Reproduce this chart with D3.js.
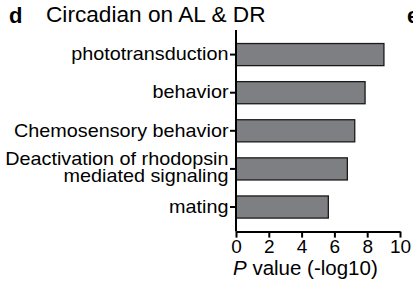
<!DOCTYPE html>
<html>
<head>
<meta charset="utf-8">
<script src="https://cdn.jsdelivr.net/npm/d3@7"></script>
<style>
  body { margin: 0; background: #fff; }
  svg { display: block; font-family: "Liberation Sans", Arial, sans-serif; }
  .axis path, .axis line { stroke: #000; stroke-width: 2px; }
</style>
</head>
<body>
<div id="chart"></div>
<script>
// GO terms, top to bottom
const terms = ["phototransduction", "behavior", "Chemosensory behavior",
  "Deactivation of rhodopsin\nmediated signaling", "mating"];
const pValues = [9.02, 7.87, 7.24, 6.79, 5.63];
const xTicks = [0, 2, 4, 6, 8, 10];

const width = 413, height = 289;

const svg = d3.select("#chart").append("svg")
    .attr("width", width)
    .attr("height", height);

const x = d3.scaleLinear().domain([0, 10]).range([236, 400]);
const y = d3.scaleBand().domain(terms).range([30, 231.6])
    .paddingInner(0.42).paddingOuter(0.355);

// panel letter + title
svg.append("text").attr("x", 9).attr("y", 22.5)
    .attr("font-size", 22).attr("font-weight", "bold").text("d");
svg.append("text").attr("x", 0).attr("y", 22.5)
    .attr("transform", "translate(46,0) scale(1.03,1)")
    .attr("font-size", 22).text("Circadian on AL & DR");
// next panel letter, cut at the edge
svg.append("text").attr("x", 407).attr("y", 22.5)
    .attr("font-size", 22).attr("font-weight", "bold").text("e");

// bars
svg.selectAll(".bar")
    .data(terms)
    .enter()
    .append("rect")
    .attr("class", "bar")
    .attr("x", x(0))
    .attr("y", d => y(d))
    .attr("width", (d, i) => x(pValues[i]) - x(0))
    .attr("height", y.bandwidth())
    .attr("fill", "#7e7f82")
    .attr("stroke", "#1a1a1a")
    .attr("stroke-width", 1.3);

// y axis
const yAxis = svg.append("g")
    .attr("class", "axis")
    .attr("transform", "translate(" + x(0) + ",0)")
    .call(d3.axisLeft(y).tickSize(6).tickSizeOuter(0));
yAxis.select(".domain").attr("d", "M0,30V231.6");
yAxis.selectAll(".tick text")
    .attr("font-size", 18)
    .attr("font-family", null)
    .attr("fill", "#000")
    .attr("x", 0)
    .attr("transform", "translate(-7.5,0) scale(1.1,1)")
    .each(function (d) {
        const lines = d.split("\n");
        if (lines.length < 2) return;
        const t = d3.select(this).text(null).attr("dy", null);
        t.append("tspan").attr("x", 0).attr("y", -4).text(lines[0]);
        t.append("tspan").attr("x", 0).attr("y", 13.5).text(lines[1]);
    });

// x axis
const xAxis = svg.append("g")
    .attr("class", "axis")
    .attr("transform", "translate(0,231.6)")
    .call(d3.axisBottom(x).tickValues(xTicks).tickSize(6).tickSizeOuter(0).tickPadding(2));
xAxis.selectAll(".tick text")
    .attr("font-size", 19)
    .attr("font-family", null)
    .attr("fill", "#000");

// axis title
const xt = svg.append("text").attr("x", 233).attr("y", 275).attr("font-size", 20.5);
xt.append("tspan").attr("font-style", "italic").text("P");
xt.append("tspan").text(" value (-log10)");
</script>
</body>
</html>
